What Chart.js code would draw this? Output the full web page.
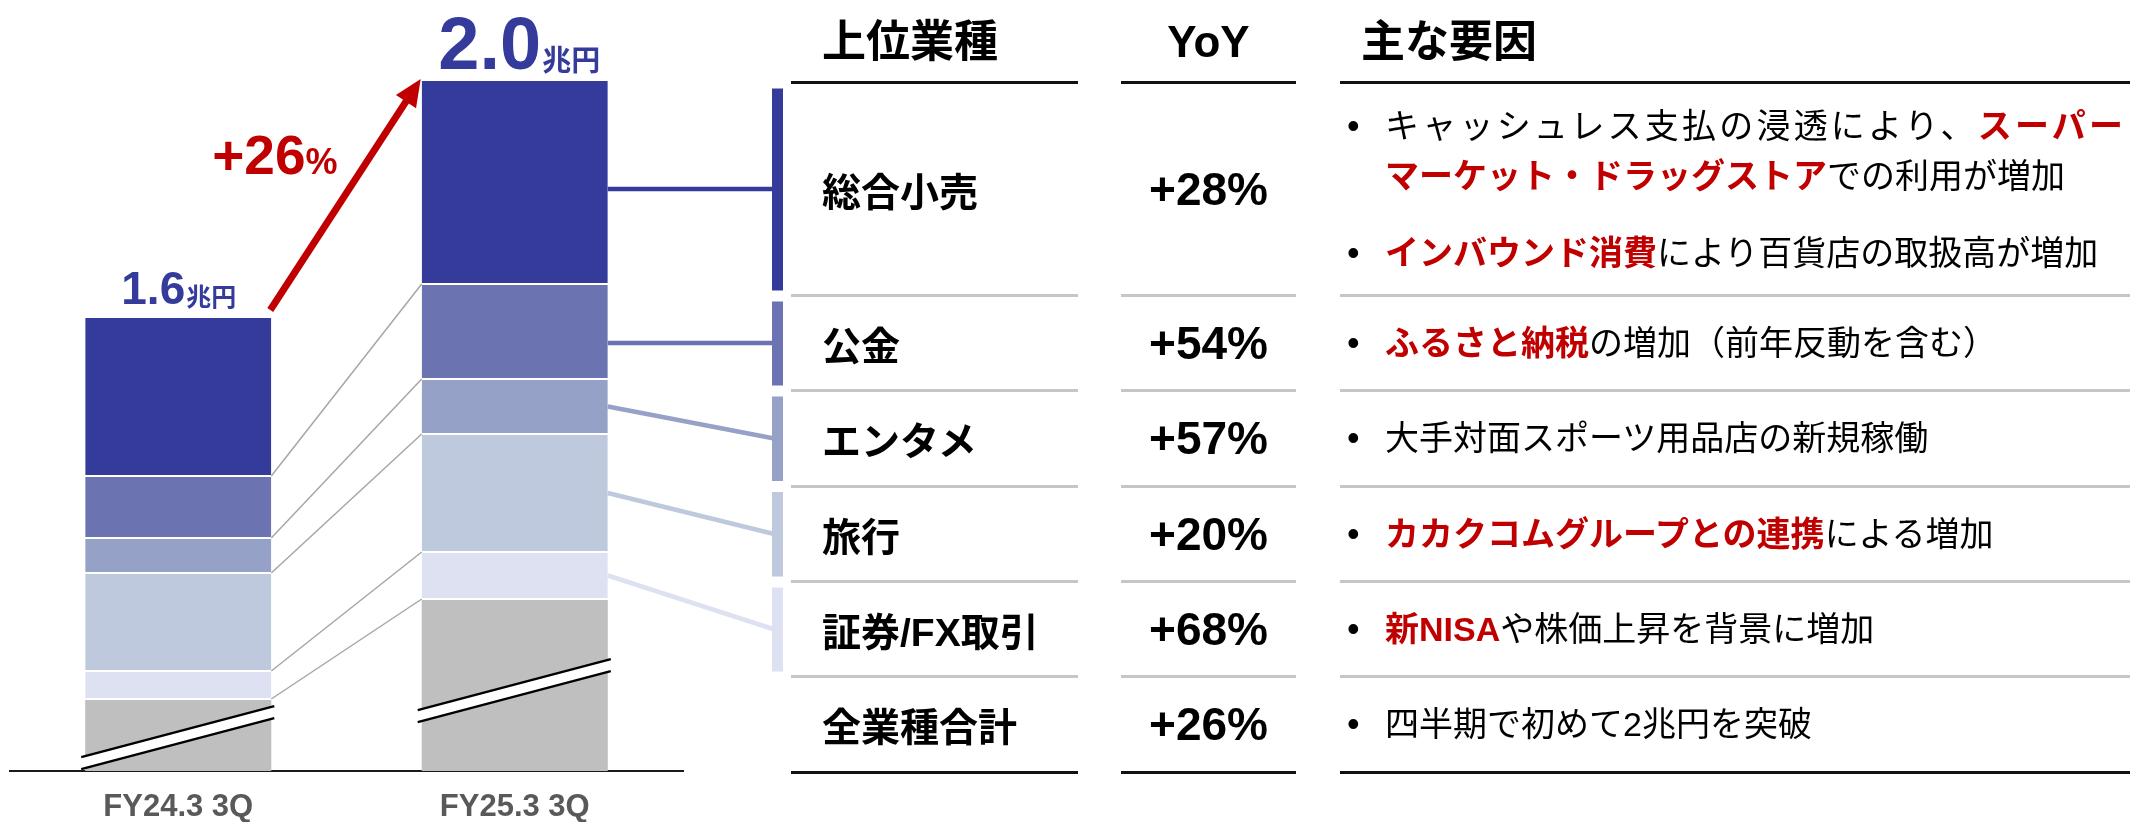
<!DOCTYPE html>
<html lang="ja">
<head>
<meta charset="utf-8">
<script src="https://cdn.jsdelivr.net/npm/chart.js@4.4.1/dist/chart.umd.min.js"></script>
<style>
  html, body { margin: 0; padding: 0; background: #fff; }
  #wrap { position: relative; width: 2130px; height: 822px; overflow: hidden;
          font-family: 'Liberation Sans', 'Noto Sans CJK JP', sans-serif; color: #000; }
  #chart { position: absolute; left: 0; top: 0; }
  #table { position: absolute; left: 0; top: 0; width: 2130px; height: 822px; }
  .cell { position: absolute; display: flex; align-items: center; white-space: nowrap; }
  .head { font-size: 44px; font-weight: 700; }
  .lab { font-size: 39px; font-weight: 700; }
  .yoy { font-size: 46px; font-weight: 700; justify-content: center; }
  .reasons { flex-direction: column; align-items: flex-start; justify-content: center; }
  .bul { position: relative; font-size: 34px; line-height: 50px; }
  .bul + .bul { margin-top: 27px; }
  .line.just { width: 738px; text-align: justify; text-align-last: justify; }
  .dot { position: absolute; left: -38px; top: 0; font-size: 36px; }
  .hi { color: #c00000; font-weight: 700; }
  .rule { position: absolute; height: 3px; }
</style>
</head>
<body>
<div id="wrap">
  <canvas id="chart" width="2130" height="822"></canvas>
  <div id="table"></div>
</div>
<script>
// --- data (display units; "その他" is shown truncated by the axis break) ---
const CATEGORIES = ['FY24.3 3Q', 'FY25.3 3Q'];
const TOTAL_LABELS = ['1.6', '2.0'];
const TOTAL_UNIT = '兆円';
const GROWTH = '+26';

const OTHER = [71, 171];
const SECURITIES = [28, 47];
const TRAVEL = [98, 118];
const ENTERTAINMENT = [35, 55];
const PUBLIC_FUNDS = [62, 95];
const RETAIL = [159, 204];

const SERIES_NAMES = ['その他', '証券/FX取引', '旅行', 'エンタメ', '公金', '総合小売'];
const SERIES_VALUES = [OTHER, SECURITIES, TRAVEL, ENTERTAINMENT, PUBLIC_FUNDS, RETAIL];
const SERIES_COLORS = ['#bfbfbf', '#dee1f2', '#bec9dd', '#95a1c6', '#6b74b0', '#353b9b'];

const TABLE_HEADERS = ['上位業種', 'YoY', '主な要因'];
const INDUSTRIES = ['総合小売', '公金', 'エンタメ', '旅行', '証券/FX取引', '全業種合計'];
const YOY = ['+28%', '+54%', '+57%', '+20%', '+68%', '+26%'];
// bullets -> lines -> [text, highlighted]
const REASONS = [
  [
    [[['キャッシュレス支払の浸透により、', 0], ['スーパー', 1]],
     [['マーケット・ドラッグストア', 1], ['での利用が増加', 0]]],
    [[['インバウンド消費', 1], ['により百貨店の取扱高が増加', 0]]]
  ],
  [[[['ふるさと納税', 1], ['の増加（前年反動を含む）', 0]]]],
  [[[['大手対面スポーツ用品店の新規稼働', 0]]]],
  [[[['カカクコムグループとの連携', 1], ['による増加', 0]]]],
  [[[['新NISA', 1], ['や株価上昇を背景に増加', 0]]]],
  [[[['四半期で初めて2兆円を突破', 0]]]]
];

// --- layout ---
const RED = '#c00000';
const ROW_LINES = [82.5, 295.5, 390.5, 486, 581.5, 676.5, 772];
const COLS = [[791, 1078], [1121, 1296], [1340, 2130]];
const MARKER_X = 772, MARKER_W = 11;

// table (HTML)
const table = document.getElementById('table');
function put(cls, style, html) {
  const d = document.createElement('div');
  d.className = cls;
  d.setAttribute('style', style);
  d.innerHTML = html;
  table.appendChild(d);
}
put('cell head', 'left:822px;top:0;height:75px;', TABLE_HEADERS[0]);
put('cell head', 'left:1121px;width:175px;justify-content:center;top:0;height:83px;', TABLE_HEADERS[1]);
put('cell head', 'left:1361px;top:0;height:75px;', TABLE_HEADERS[2]);

ROW_LINES.forEach((y, i) => {
  const last = i === 0 || i === ROW_LINES.length - 1;
  COLS.forEach(([x0, x1]) => {
    put('rule', `left:${x0}px;width:${x1 - x0}px;top:${y - 1.5}px;background:${last ? '#111' : '#c6c6c6'};`, '');
  });
});

INDUSTRIES.forEach((name, r) => {
  const top = ROW_LINES[r], h = ROW_LINES[r + 1] - ROW_LINES[r];
  put('cell lab', `left:822px;top:${top}px;height:${h}px;`, name);
  put('cell yoy', `left:1121px;width:175px;top:${top}px;height:${h}px;`, YOY[r]);
  const html = REASONS[r].map(lines =>
    '<div class="bul"><span class="dot">•</span>' +
    lines.map((parts, li) =>
      `<div class="line${li < lines.length - 1 ? ' just' : ''}">` +
      parts.map(([t, hi]) => `<span class="${hi ? 'hi' : ''}">${t}</span>`).join('') +
      '</div>').join('') +
    '</div>').join('');
  put('cell reasons', `left:1385px;top:${top}px;height:${h}px;`, html);
});

// chart decorations
const annotate = {
  id: 'annotate',
  afterDatasetsDraw(chart) {
    const ctx = chart.ctx;
    const bar = (ds, i) => chart.getDatasetMeta(ds).data[i];
    const left = el => el.x - el.width / 2;
    const right = el => el.x + el.width / 2;
    const n = SERIES_NAMES.length;
    ctx.save();

    // guide lines between the two bars at segment boundaries
    ctx.strokeStyle = '#a6a6a6';
    ctx.lineWidth = 1.5;
    for (let i = 0; i < n - 1; i++) {
      const a = bar(i, 0), b = bar(i, 1);
      ctx.beginPath();
      ctx.moveTo(right(a), a.y - 1);
      ctx.lineTo(left(b), b.y - 1);
      ctx.stroke();
    }

    // axis break marks on the "other" segments
    chart.getDatasetMeta(0).data.forEach(el => {
      const x0 = left(el) - 4, x1 = right(el) + 3;
      const cy = el.y + (el.base - el.y) * 0.53;
      const rise = 51, gap = 12;
      const yl = cy + rise / 2, yr = cy - rise / 2;
      ctx.fillStyle = '#fff';
      ctx.beginPath();
      ctx.moveTo(x0, yl - gap / 2); ctx.lineTo(x1, yr - gap / 2);
      ctx.lineTo(x1, yr + gap / 2); ctx.lineTo(x0, yl + gap / 2);
      ctx.closePath(); ctx.fill();
      ctx.strokeStyle = '#000';
      ctx.lineWidth = 2.5;
      [-1, 1].forEach(s => {
        ctx.beginPath();
        ctx.moveTo(x0, yl + s * gap / 2);
        ctx.lineTo(x1, yr + s * gap / 2);
        ctx.stroke();
      });
    });

    // growth arrow
    const a = bar(n - 1, 0), b = bar(n - 1, 1);
    const tx = right(a) - 1, ty = a.y - 8, hx = left(b) - 1, hy = b.y - 2;
    const ang = Math.atan2(hy - ty, hx - tx);
    const headLen = 27, headW = 12;
    const bx = hx - headLen * Math.cos(ang), by = hy - headLen * Math.sin(ang);
    ctx.strokeStyle = RED;
    ctx.lineWidth = 7;
    ctx.beginPath(); ctx.moveTo(tx, ty); ctx.lineTo(bx + 2 * Math.cos(ang), by + 2 * Math.sin(ang)); ctx.stroke();
    ctx.fillStyle = RED;
    ctx.beginPath();
    ctx.moveTo(hx, hy);
    ctx.lineTo(bx + headW * Math.sin(ang), by - headW * Math.cos(ang));
    ctx.lineTo(bx - headW * Math.sin(ang), by + headW * Math.cos(ang));
    ctx.closePath(); ctx.fill();

    // growth label
    const mx = (tx + hx) / 2 - 8, my = (ty + hy) / 2 - 21;
    ctx.textBaseline = 'alphabetic';
    ctx.textAlign = 'right';
    ctx.font = "bold 36px 'Liberation Sans'";
    ctx.fillText('%', mx, my);
    const pw = ctx.measureText('%').width;
    ctx.font = "bold 55px 'Liberation Sans'";
    ctx.fillText(GROWTH, mx - pw, my);

    // totals above bars
    const sizes = [[46, 25, 14], [74, 29, 12]];
    TOTAL_LABELS.forEach((t, i) => {
      const el = bar(n - 1, i);
      const [big, small, off] = sizes[i];
      ctx.font = `bold ${big}px 'Liberation Sans'`;
      const w1 = ctx.measureText(t).width;
      ctx.font = `bold ${small}px 'Noto Sans CJK JP'`;
      const w2 = ctx.measureText(TOTAL_UNIT).width;
      const x0 = el.x - (w1 + w2) / 2 + i * 4;
      const y = el.y - off;
      ctx.fillStyle = SERIES_COLORS[n - 1];
      ctx.textAlign = 'left';
      ctx.font = `bold ${big}px 'Liberation Sans'`;
      ctx.fillText(t, x0, y);
      ctx.font = `bold ${small}px 'Noto Sans CJK JP'`;
      ctx.fillText(TOTAL_UNIT, x0 + w1 + 1, y + 2);
    });

    // connectors from FY25 segments to table rows
    for (let r = 0; r < n - 1; r++) {
      const ds = n - 1 - r;
      const el = bar(ds, 1);
      const segTop = el.y, segBot = el.base - 2;
      const top = ROW_LINES[r], bottom = ROW_LINES[r + 1];
      const ey = (top + bottom) / 2;
      const q = (segBot - segTop) / 4;
      // level line when the row centre sits in the middle half of the segment
      const sy = (ey > segTop + q && ey < segBot - q) ? ey : (segTop + segBot) / 2;
      ctx.strokeStyle = SERIES_COLORS[ds];
      ctx.fillStyle = SERIES_COLORS[ds];
      ctx.lineWidth = 4.5;
      ctx.beginPath();
      ctx.moveTo(right(el), sy);
      ctx.lineTo(MARKER_X + 1, ey);
      ctx.stroke();
      ctx.fillRect(MARKER_X, top + 6, MARKER_W, bottom - top - 11);
    }
    ctx.restore();
  }
};

document.fonts.ready.then(() => {
  new Chart(document.getElementById('chart'), {
    type: 'bar',
    data: {
      labels: CATEGORIES,
      datasets: SERIES_NAMES.map((name, i) => ({
        label: name,
        data: SERIES_VALUES[i],
        backgroundColor: SERIES_COLORS[i],
        borderColor: '#ffffff',
        borderWidth: i === 0 ? 0 : { top: 0, left: 0, right: 0, bottom: 2 },
        borderSkipped: false,
        barPercentage: 0.553,
        categoryPercentage: 1
      }))
    },
    options: {
      responsive: false,
      animation: false,
      devicePixelRatio: 1,
      layout: { padding: { left: 10, right: 1447, top: 0, bottom: 0 } },
      plugins: { legend: { display: false }, tooltip: { enabled: false } },
      scales: {
        x: {
          stacked: true,
          grid: { display: false, drawTicks: false },
          border: { display: true, color: '#1a1a1a', width: 2 },
          ticks: {
            color: '#595959',
            padding: 18,
            font: { family: 'Liberation Sans', size: 31, weight: 'bold' }
          },
          afterFit: (axis) => { axis.height = 51; }
        },
        y: { stacked: true, display: false, min: 0, max: 771 }
      }
    },
    plugins: [annotate]
  });
});
</script>
</body>
</html>
